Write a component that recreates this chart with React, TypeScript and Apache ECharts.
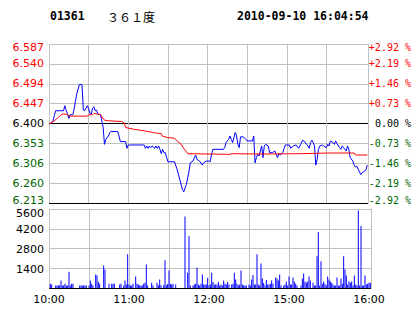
import React, { useEffect, useRef } from 'react';
import * as echarts from 'echarts';

// ---------- data ----------
const PREV_CLOSE = 6.4;
const stockCode = '01361';
const stockName = '３６１度';
const timeStamp = '2010-09-10 16:04:54';

const priceTickLabels = ['6.213', '6.260', '6.306', '6.353', '6.400', '6.447', '6.494', '6.540', '6.587'];
const pctTickLabels = ['-2.92 %', '-2.19 %', '-1.46 %', '-0.73 %', '0.00 %', '+0.73 %', '+1.46 %', '+2.19 %', '+2.92 %'];
const timeTickMinutes = [0, 60, 120, 180, 240];
const timeTickLabels = ['10:00', '11:00', '12:00', '15:00', '16:00'];
const volumeTicks = [1400, 2800, 4200, 5600];

// minutes since 10:00 (trading minutes), last price
const priceMinutes = [0, 1, 3, 4, 5, 11, 12, 13, 14, 15, 16, 18, 19, 20, 21, 23, 25, 26, 27, 29, 30, 31, 32, 33, 34, 35, 36, 37, 39, 40, 41, 42, 43, 45, 46, 47, 52, 53, 54, 58, 59, 60, 72, 73, 74, 75, 76, 77, 78, 80, 81, 82, 83, 84, 85, 86, 87, 88, 89, 90, 95, 97, 99, 101, 102, 103, 104, 105, 106, 107, 109, 110, 111, 112, 114, 116, 117, 119, 121, 122, 123, 124, 132, 133, 134, 136, 137, 138, 139, 140, 141, 142, 143, 144, 145, 147, 149, 150, 154, 155, 156, 157, 158, 159, 160, 161, 162, 163, 164, 166, 167, 169, 171, 172, 173, 174, 175, 177, 178, 179, 182, 183, 185, 187, 189, 190, 192, 193, 195, 196, 197, 198, 199, 200, 201, 202, 203, 204, 205, 207, 208, 210, 211, 212, 213, 215, 216, 217, 218, 220, 221, 222, 223, 225, 226, 227, 228, 230, 231, 232, 233, 235, 236, 237, 239, 240, 241];
const prices = [6.400, 6.400, 6.4063, 6.4181, 6.430, 6.430, 6.4418, 6.430, 6.4237, 6.4118, 6.4205, 6.4205, 6.4339, 6.452, 6.4694, 6.4915, 6.4915, 6.4315, 6.430, 6.4418, 6.4355, 6.4237, 6.4221, 6.4363, 6.4394, 6.430, 6.4315, 6.4221, 6.4205, 6.4063, 6.3905, 6.3511, 6.3629, 6.3708, 6.3787, 6.3811, 6.3811, 6.3708, 6.3574, 6.3574, 6.3416, 6.3495, 6.3495, 6.3416, 6.3472, 6.3416, 6.3472, 6.3432, 6.3472, 6.3416, 6.3472, 6.3416, 6.3472, 6.3393, 6.329, 6.3393, 6.3314, 6.3314, 6.3211, 6.3101, 6.3101, 6.292, 6.2683, 6.2447, 6.2391, 6.2486, 6.2565, 6.2722, 6.288, 6.3077, 6.3117, 6.3196, 6.3259, 6.3156, 6.3117, 6.3022, 6.3077, 6.3117, 6.3117, 6.3101, 6.3259, 6.3393, 6.3393, 6.3432, 6.3551, 6.3629, 6.3708, 6.3629, 6.3551, 6.3669, 6.3787, 6.3708, 6.3511, 6.3432, 6.3685, 6.3685, 6.3629, 6.359, 6.359, 6.3708, 6.3077, 6.3196, 6.3275, 6.3235, 6.3353, 6.3472, 6.3196, 6.3472, 6.3511, 6.3472, 6.3314, 6.3314, 6.3353, 6.3274, 6.3196, 6.329, 6.3259, 6.3314, 6.3416, 6.3495, 6.3495, 6.3416, 6.3472, 6.3495, 6.3416, 6.3472, 6.3606, 6.359, 6.3511, 6.3472, 6.3416, 6.3551, 6.3606, 6.3551, 6.3472, 6.3022, 6.3156, 6.3393, 6.3472, 6.3495, 6.3472, 6.3432, 6.3511, 6.3472, 6.359, 6.3551, 6.3511, 6.359, 6.3527, 6.3432, 6.3393, 6.3472, 6.3432, 6.3353, 6.3472, 6.3393, 6.3196, 6.3117, 6.3022, 6.2975, 6.2999, 6.2864, 6.2801, 6.2841, 6.288, 6.292, 6.3022];

// average price line
const avgMinutes = [0, 1, 4, 7, 9, 10, 13, 15, 17, 29, 30, 33, 34, 37, 39, 40, 42, 45, 55, 57, 58, 64, 72, 79, 80, 85, 86, 90, 95, 97, 100, 102, 104, 105, 137, 138, 162, 190, 211, 231, 232, 241];
const avgPrices = [6.400, 6.400, 6.4063, 6.4142, 6.4197, 6.4221, 6.4221, 6.4181, 6.4173, 6.4173, 6.4205, 6.4205, 6.4237, 6.4221, 6.4205, 6.4158, 6.4079, 6.4063, 6.4047, 6.4016, 6.3905, 6.3866, 6.3827, 6.3787, 6.3779, 6.3763, 6.370, 6.3669, 6.3653, 6.359, 6.3511, 6.3416, 6.3338, 6.329, 6.3275, 6.329, 6.3283, 6.329, 6.3306, 6.3306, 6.3259, 6.3259];

// volume per minute
const volumeMinutes = [1, 2, 5, 6, 7, 8, 9, 10, 11, 12, 13, 14, 15, 16, 17, 18, 23, 24, 25, 26, 27, 28, 30, 31, 32, 33, 35, 36, 37, 38, 41, 42, 45, 47, 48, 49, 53, 54, 56, 57, 58, 59, 60, 61, 62, 63, 65, 66, 67, 68, 69, 70, 71, 72, 73, 74, 77, 78, 81, 82, 83, 84, 86, 87, 88, 89, 90, 91, 92, 93, 95, 102, 104, 105, 106, 108, 109, 110, 111, 112, 113, 114, 115, 116, 117, 118, 119, 120, 121, 122, 123, 124, 125, 126, 127, 128, 129, 130, 131, 132, 133, 134, 135, 137, 138, 139, 140, 141, 142, 143, 144, 145, 146, 147, 148, 150, 151, 152, 153, 154, 155, 156, 157, 158, 159, 160, 161, 162, 163, 164, 165, 166, 167, 168, 170, 171, 172, 173, 174, 176, 177, 178, 179, 180, 181, 182, 183, 184, 185, 186, 189, 190, 191, 192, 193, 194, 195, 196, 198, 199, 200, 201, 202, 203, 204, 205, 206, 207, 208, 209, 210, 211, 212, 213, 214, 215, 216, 217, 218, 219, 220, 221, 222, 223, 224, 225, 226, 227, 228, 229, 230, 231, 232, 233, 234, 235, 236, 237, 238, 239, 240, 241];
const volumes = [310, 240, 170, 170, 170, 190, 525, 170, 190, 310, 170, 170, 1150, 170, 310, 310, 170, 170, 170, 170, 170, 170, 170, 525, 310, 170, 960, 885, 450, 310, 1600, 1315, 310, 310, 310, 310, 240, 310, 170, 525, 240, 2390, 240, 170, 170, 310, 810, 310, 240, 170, 170, 170, 310, 380, 1670, 170, 380, 170, 370, 190, 600, 190, 190, 1960, 190, 290, 1240, 290, 240, 310, 240, 5070, 1075, 3680, 170, 170, 240, 310, 1460, 240, 170, 310, 955, 240, 240, 240, 720, 170, 240, 1075, 430, 240, 240, 240, 430, 170, 240, 170, 525, 310, 240, 430, 240, 240, 310, 1075, 600, 310, 170, 240, 1240, 240, 170, 170, 170, 240, 170, 600, 930, 240, 240, 2390, 240, 170, 1745, 670, 360, 170, 575, 240, 240, 310, 525, 310, 740, 670, 525, 955, 170, 170, 240, 455, 170, 810, 240, 240, 740, 455, 310, 170, 170, 670, 1030, 455, 380, 455, 810, 525, 380, 170, 170, 2250, 3970, 170, 1890, 310, 455, 310, 170, 810, 600, 455, 380, 240, 170, 170, 740, 170, 170, 670, 310, 2250, 1315, 885, 240, 455, 380, 455, 170, 885, 240, 170, 5500, 170, 4400, 170, 170, 885, 240, 310, 380, 380];

// ---------- helpers ----------
const toBps = (p: number) => (p / PREV_CLOSE - 1) * 10000;
const STEP = 73; // 0.73 % in basis points
const GRAY = '#c0c0c0';
const RED = '#ff0000';
const GREEN = '#006600';

const tickIndex = (v: number) => Math.round(v / STEP) + 4;

// rich style key for a price-axis tick: colour + nudge for the edge labels
const richKey = (v: number) => {
  const i = tickIndex(Number(v));
  if (i === 8) return 'rt';
  if (i === 0) return 'gb';
  return i > 4 ? 'r' : i < 4 ? 'g' : 'k';
};

const makeRich = (font: string, size: number) => {
  const base = { fontFamily: font, fontSize: size };
  return {
    r: { ...base, color: RED },
    g: { ...base, color: GREEN },
    k: { ...base, color: '#000' },
    rt: { ...base, color: RED, padding: [6, 0, 0, 0] },
    gb: { ...base, color: GREEN, padding: [0, 0, 6, 0] },
  };
};

export default function App() {
  const ref = useRef<HTMLDivElement>(null);

  useEffect(() => {
    if (!ref.current) return;
    const chart = echarts.init(ref.current, undefined, { renderer: 'svg' });

    const xSplitColors = [GRAY, GRAY, GRAY, GRAY, GRAY, GRAY, GRAY, GRAY, 'rgba(0,0,0,0)', GRAY];
    const xBase = {
      type: 'value',
      min: 0,
      max: 241.5,
      interval: 30,
      axisLine: { show: false },
      axisTick: { show: false },
      splitLine: { show: true, lineStyle: { color: xSplitColors, width: 1 } },
    };

    const option: any = {
      animation: false,
      backgroundColor: '#ffffff',
      grid: [
        { left: 49, top: 44, width: 322, height: 159 },
        { left: 49, top: 209, width: 322, height: 79 },
      ],
      graphic: [
        {
          type: 'text', x: 50, y: 16,
          style: { text: stockCode, fill: '#000', font: 'bold 11.5px "DejaVu Sans Mono"', align: 'left', verticalAlign: 'middle' },
        },
        {
          type: 'text', x: 107, y: 16,
          style: { text: stockName, fill: '#000', font: '12px "Noto Sans CJK SC"', align: 'left', verticalAlign: 'middle' },
        },
        {
          type: 'text', x: 237, y: 16,
          style: { text: timeStamp, fill: '#000', font: 'bold 11.5px "DejaVu Sans Mono"', align: 'left', verticalAlign: 'middle' },
        },
      ],
      xAxis: [
        { ...xBase, gridIndex: 0, axisLabel: { show: false } },
        {
          ...xBase,
          gridIndex: 1,
          axisLabel: {
            show: true,
            color: '#000',
            fontFamily: 'DejaVu Sans',
            fontSize: 11,
            margin: 6,
            formatter: (v: number) => {
              const i = timeTickMinutes.indexOf(v);
              return i >= 0 ? timeTickLabels[i] : '';
            },
          },
        },
      ],
      yAxis: [
        {
          gridIndex: 0,
          type: 'value',
          min: -4 * STEP,
          max: 4 * STEP,
          interval: STEP,
          position: 'left',
          axisLine: { show: false },
          axisTick: { show: false },
          axisLabel: {
            formatter: (v: number) => `{${richKey(v)}|${priceTickLabels[tickIndex(v)] ?? ''}}`,
            fontFamily: 'DejaVu Sans',
            fontSize: 11,
            margin: 5,
            rich: makeRich('DejaVu Sans', 11),
          },
          splitLine: {
            show: true,
            lineStyle: { color: ['#000', GRAY, GRAY, GRAY, '#000', GRAY, GRAY, GRAY, GRAY], width: 1 },
          },
        },
        {
          gridIndex: 0,
          type: 'value',
          min: -4 * STEP,
          max: 4 * STEP,
          interval: STEP,
          position: 'right',
          axisLine: { show: true, lineStyle: { color: GRAY, width: 1 } },
          axisTick: { show: false },
          axisLabel: {
            formatter: (v: number) => `{${richKey(v)}|${pctTickLabels[tickIndex(v)] ?? ''}}`,
            fontFamily: 'DejaVu Sans Mono',
            fontSize: 10,
            align: 'right',
            margin: 43,
            rich: makeRich('DejaVu Sans Mono', 10),
          },
          splitLine: { show: false },
        },
        {
          gridIndex: 1,
          type: 'value',
          min: 0,
          max: 5600,
          interval: 1400,
          position: 'left',
          axisLine: { show: false },
          axisTick: { show: false },
          axisLabel: {
            formatter: (v: number) => {
              if (volumeTicks.indexOf(v) < 0) return '';
              return v === 5600 ? `{top|${v}}` : `{n|${v}}`;
            },
            color: '#000',
            fontFamily: 'DejaVu Sans',
            fontSize: 11,
            margin: 5,
            rich: {
              n: { fontFamily: 'DejaVu Sans', fontSize: 11, color: '#000', padding: [2, 0, 0, 0] },
              top: { fontFamily: 'DejaVu Sans', fontSize: 11, color: '#000', padding: [8, 0, 0, 0] },
            },
          },
          splitLine: { show: true, lineStyle: { color: ['#000', GRAY, GRAY, GRAY, GRAY], width: 1 } },
        },
        {
          gridIndex: 1,
          type: 'value',
          min: 0,
          max: 5600,
          interval: 1400,
          position: 'right',
          axisLine: { show: true, lineStyle: { color: GRAY, width: 1 } },
          axisTick: { show: false },
          axisLabel: { show: false },
          splitLine: { show: false },
        },
      ],
      series: [
        {
          type: 'line',
          xAxisIndex: 0,
          yAxisIndex: 0,
          data: priceMinutes.map((m, i) => [m, toBps(prices[i])]),
          showSymbol: false,
          symbol: 'none',
          lineStyle: { color: '#0000ff', width: 1 },
          z: 3,
        },
        {
          type: 'line',
          xAxisIndex: 0,
          yAxisIndex: 0,
          data: avgMinutes.map((m, i) => [m, toBps(avgPrices[i])]),
          showSymbol: false,
          symbol: 'none',
          lineStyle: { color: '#ff0000', width: 1 },
          z: 4,
        },
        {
          type: 'bar',
          xAxisIndex: 1,
          yAxisIndex: 2,
          data: volumeMinutes.map((m, i) => [m, volumes[i]]),
          barWidth: 1,
          itemStyle: { color: '#0000ff' },
        },
      ],
    };

    chart.setOption(option);
    return () => chart.dispose();
  }, []);

  return (
    <div
      ref={ref}
      style={{ position: 'fixed', left: 0, top: 0, width: 414, height: 314, background: '#fff' }}
    />
  );
}
